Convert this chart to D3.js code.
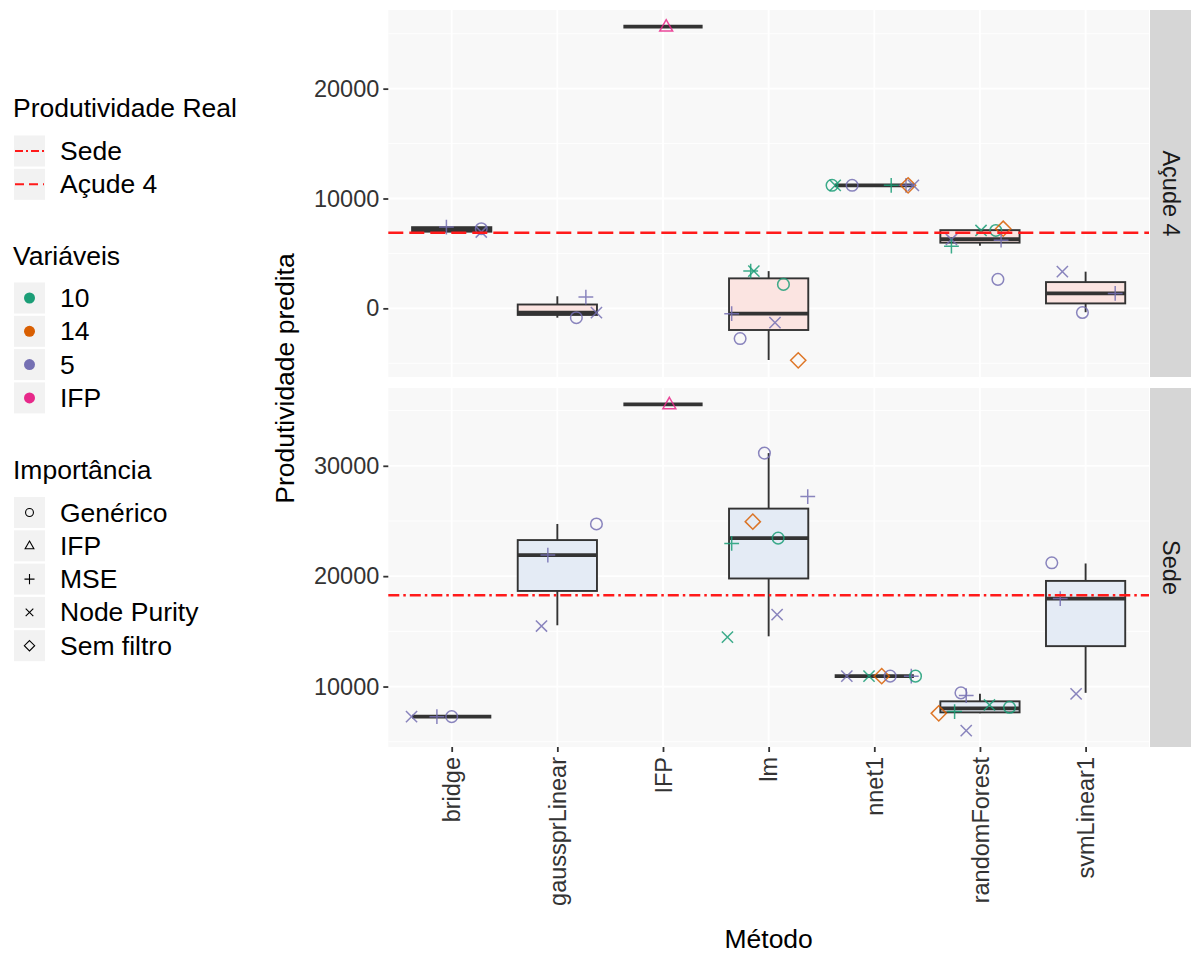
<!DOCTYPE html>
<html>
<head>
<meta charset="utf-8">
<script src="https://cdn.jsdelivr.net/npm/d3@7"></script>
<style>
  body { margin: 0; background: #ffffff; }
  svg text { font-family: "Liberation Sans", Arial, sans-serif; }
</style>
</head>
<body>
<svg id="chart" width="1191" height="958"></svg>
<script>
// ---- data -------------------------------------------------------------
const methods = ["bridge", "gaussprLinear", "IFP", "lm", "nnet1", "randomForest", "svmLinear1"];
const locais = ["Açude 4", "Sede"];
const variaveis = ["10", "14", "5", "IFP"];
const variaveisCores = ["#1B9E77", "#D95F02", "#7570B3", "#E7298A"];
const importancia = ["Genérico", "IFP", "MSE", "Node Purity", "Sem filtro"];
const yTicksAcude = [0, 10000, 20000];
const yTicksSede = [10000, 20000, 30000];
// observed productivity per site (Açude 4, Sede)
const produtividadeReal = [6880, 18270];
const realLabels = ["Sede", "Açude 4"];

// box statistics per method: [lower whisker, q1, median, q3, upper whisker]
const boxAcude = [
  [6950, 6980, 7150, 7390, 7400],
  [-850, -600, -400, 350, 1100],
  [25640, 25640, 25640, 25640, 25640],
  [-4700, -1970, -480, 2730, 3390],
  [11200, 11200, 11200, 11200, 11200],
  [5700, 5980, 6300, 7120, 7250],
  [-350, 450, 1360, 2390, 3340]
];
const boxSede = [
  [7270, 7270, 7270, 7270, 7270],
  [15550, 18660, 21910, 23270, 24730],
  [35570, 35570, 35570, 35570, 35570],
  [14550, 19790, 23450, 26120, 31150],
  [10940, 10940, 10940, 10940, 10940],
  [7570, 7660, 8030, 8660, 9350],
  [9430, 13660, 17970, 19570, 21150]
];

// individual predictions: [method, variaveis, importancia, valor, jitter]
const pontosAcude = [
  ["bridge", "5", "MSE", 7400, -0.05],
  ["bridge", "5", "Genérico", 7250, 0.28],
  ["bridge", "5", "Node Purity", 6950, 0.28],
  ["gaussprLinear", "5", "MSE", 1030, 0.27],
  ["gaussprLinear", "5", "Genérico", -850, 0.18],
  ["gaussprLinear", "5", "Node Purity", -390, 0.37],
  ["IFP", "IFP", "IFP", 25640, 0.03],
  ["lm", "10", "MSE", 3390, -0.17],
  ["lm", "10", "Node Purity", 3390, -0.14],
  ["lm", "10", "Genérico", 2180, 0.14],
  ["lm", "5", "MSE", -480, -0.35],
  ["lm", "5", "Node Purity", -1300, 0.06],
  ["lm", "5", "Genérico", -2750, -0.27],
  ["lm", "14", "Sem filtro", -4730, 0.28],
  ["nnet1", "10", "Genérico", 11200, -0.40],
  ["nnet1", "10", "Node Purity", 11200, -0.37],
  ["nnet1", "5", "Genérico", 11200, -0.21],
  ["nnet1", "10", "MSE", 11200, 0.16],
  ["nnet1", "5", "MSE", 11200, 0.30],
  ["nnet1", "14", "Sem filtro", 11200, 0.32],
  ["nnet1", "5", "Node Purity", 11200, 0.37],
  ["randomForest", "5", "Node Purity", 6270, -0.27],
  ["randomForest", "10", "MSE", 5660, -0.27],
  ["randomForest", "10", "Node Purity", 7090, 0.01],
  ["randomForest", "10", "Genérico", 7090, 0.15],
  ["randomForest", "14", "Sem filtro", 7250, 0.22],
  ["randomForest", "5", "MSE", 6210, 0.20],
  ["randomForest", "5", "Genérico", 2640, 0.17],
  ["svmLinear1", "5", "Node Purity", 3340, -0.22],
  ["svmLinear1", "5", "MSE", 1360, 0.28],
  ["svmLinear1", "5", "Genérico", -380, -0.03]
];
const pontosSede = [
  ["bridge", "5", "Node Purity", 7270, -0.38],
  ["bridge", "5", "MSE", 7270, -0.14],
  ["bridge", "5", "Genérico", 7270, 0.0],
  ["gaussprLinear", "5", "MSE", 21910, -0.09],
  ["gaussprLinear", "5", "Genérico", 24730, 0.37],
  ["gaussprLinear", "5", "Node Purity", 15480, -0.15],
  ["IFP", "IFP", "IFP", 35570, 0.06],
  ["lm", "5", "Genérico", 31150, -0.04],
  ["lm", "5", "MSE", 27210, 0.37],
  ["lm", "14", "Sem filtro", 24940, -0.15],
  ["lm", "10", "MSE", 22970, -0.35],
  ["lm", "10", "Genérico", 23450, 0.09],
  ["lm", "5", "Node Purity", 16520, 0.08],
  ["lm", "10", "Node Purity", 14480, -0.39],
  ["nnet1", "5", "Node Purity", 10940, -0.26],
  ["nnet1", "10", "Node Purity", 10940, -0.05],
  ["nnet1", "14", "Sem filtro", 10940, 0.07],
  ["nnet1", "5", "Genérico", 10940, 0.15],
  ["nnet1", "5", "MSE", 10940, 0.35],
  ["nnet1", "10", "Genérico", 10940, 0.39],
  ["randomForest", "5", "Genérico", 9430, -0.18],
  ["randomForest", "5", "MSE", 9180, -0.13],
  ["randomForest", "14", "Sem filtro", 7570, -0.39],
  ["randomForest", "10", "MSE", 7730, -0.24],
  ["randomForest", "10", "Node Purity", 8330, 0.09],
  ["randomForest", "10", "Genérico", 8120, 0.28],
  ["randomForest", "5", "Node Purity", 6000, -0.13],
  ["svmLinear1", "5", "Genérico", 21210, -0.32],
  ["svmLinear1", "5", "MSE", 17970, -0.24],
  ["svmLinear1", "5", "Node Purity", 9340, -0.09]
];

// ---- layout -----------------------------------------------------------
const svg = d3.select("#chart");
const FONT_TICK = 23.5, FONT_TITLE = 26.5, FONT_LEG = 26.5;
const panelLeft = 388.3, panelRight = 1149;
const stripW = 42;
const panels = [
  { local: locais[0], top: 10, bottom: 377, boxes: boxAcude, pontos: pontosAcude, ticks: yTicksAcude, real: produtividadeReal[0], dash: "15,6" },
  { local: locais[1], top: 388, bottom: 747, boxes: boxSede, pontos: pontosSede, ticks: yTicksSede, real: produtividadeReal[1], dash: "11,4,2.5,4" }
];

const x = d3.scalePoint().domain(methods).range([panelLeft, panelRight]).padding(0.6);
const step = x.step();
const boxW = 0.75 * step;
const color = d3.scaleOrdinal().domain(variaveis).range(variaveisCores);

// marker shapes for the importance filter
function shapePath(kind, k) {
  const p = d3.path();
  if (kind === "Genérico") {
    const r = 5.8 * k; p.moveTo(r, 0); p.arc(0, 0, r, 0, 2 * Math.PI);
  } else if (kind === "IFP") {
    const r = 7 * k;
    p.moveTo(0, -r); p.lineTo(r * 0.92, r * 0.62); p.lineTo(-r * 0.92, r * 0.62); p.closePath();
  } else if (kind === "MSE") {
    const r = 7.4 * k;
    p.moveTo(-r, 0); p.lineTo(r, 0); p.moveTo(0, -r); p.lineTo(0, r);
  } else if (kind === "Node Purity") {
    const r = 5.6 * k;
    p.moveTo(-r, -r); p.lineTo(r, r); p.moveTo(-r, r); p.lineTo(r, -r);
  } else {
    const r = 7.6 * k;
    p.moveTo(0, -r); p.lineTo(r, 0); p.lineTo(0, r); p.lineTo(-r, 0); p.closePath();
  }
  return p.toString();
}

panels.forEach((pn, pi) => {
  const vals = pn.pontos.map(d => d[3]).concat(pn.boxes.flat(), [pn.real]);
  const lo = d3.min(vals), hi = d3.max(vals), pad = (hi - lo) * 0.05;
  const y = d3.scaleLinear().domain([lo - pad, hi + pad]).range([pn.bottom, pn.top]);
  const g = svg.append("g");

  // panel background + grid
  g.append("rect").attr("x", panelLeft).attr("y", pn.top)
    .attr("width", panelRight - panelLeft).attr("height", pn.bottom - pn.top)
    .attr("fill", "#f8f8f8");
  const minor = [];
  const tStep = pn.ticks[1] - pn.ticks[0];
  for (let v = pn.ticks[0] - tStep / 2; v <= y.domain()[1]; v += tStep) {
    if (v >= y.domain()[0]) minor.push(v);
  }
  g.selectAll(".minor").data(minor).join("line")
    .attr("x1", panelLeft).attr("x2", panelRight)
    .attr("y1", d => y(d)).attr("y2", d => y(d))
    .attr("stroke", "#ffffff").attr("stroke-width", 0.9);
  g.selectAll(".major").data(pn.ticks).join("line")
    .attr("x1", panelLeft).attr("x2", panelRight)
    .attr("y1", d => y(d)).attr("y2", d => y(d))
    .attr("stroke", "#ffffff").attr("stroke-width", 1.8);
  g.selectAll(".vmajor").data(methods).join("line")
    .attr("x1", d => x(d)).attr("x2", d => x(d))
    .attr("y1", pn.top).attr("y2", pn.bottom)
    .attr("stroke", "#ffffff").attr("stroke-width", 1.8);

  // boxplots
  const bx = g.selectAll(".box").data(methods.map((m, i) => [m, pn.boxes[i]])).join("g");
  bx.append("line")
    .attr("x1", d => x(d[0])).attr("x2", d => x(d[0]))
    .attr("y1", d => y(d[1][0])).attr("y2", d => y(d[1][4]))
    .attr("stroke", "#333333").attr("stroke-width", 1.9);
  bx.append("rect")
    .attr("x", d => x(d[0]) - boxW / 2).attr("width", boxW)
    .attr("y", d => y(d[1][3])).attr("height", d => y(d[1][1]) - y(d[1][3]))
    .attr("fill", pi === 0 ? "#fbe4e1" : "#e4ebf5")
    .attr("stroke", "#333333").attr("stroke-width", 1.9);
  bx.append("line")
    .attr("x1", d => x(d[0]) - boxW / 2).attr("x2", d => x(d[0]) + boxW / 2)
    .attr("y1", d => y(d[1][2])).attr("y2", d => y(d[1][2]))
    .attr("stroke", "#333333").attr("stroke-width", 3.8);

  // predictions
  g.selectAll(".pt").data(pn.pontos).join("path")
    .attr("transform", d => `translate(${x(d[0]) + d[4] * step},${y(d[3])})`)
    .attr("d", d => shapePath(d[2], 1))
    .attr("fill", "none")
    .attr("stroke", d => color(d[1]))
    .attr("stroke-width", 1.5)
    .attr("stroke-opacity", 0.85);

  // observed productivity reference line
  g.append("line")
    .attr("x1", panelLeft).attr("x2", panelRight)
    .attr("y1", y(pn.real)).attr("y2", y(pn.real))
    .attr("stroke", "#ff1a1a").attr("stroke-width", 2.4)
    .attr("stroke-dasharray", pn.dash);

  // y axis
  const ax = g.append("g").attr("transform", `translate(${panelLeft},0)`)
    .call(d3.axisLeft(y).tickValues(pn.ticks).tickSize(5).tickPadding(4).tickFormat(d3.format("d")));
  ax.select(".domain").remove();
  ax.selectAll(".tick line").attr("stroke", "#333333").attr("stroke-width", 1.8);
  ax.selectAll(".tick text").attr("font-size", FONT_TICK).attr("fill", "#333333")
    .attr("font-family", "Liberation Sans, Arial, sans-serif");

  // facet strip
  g.append("rect").attr("x", panelRight + 1).attr("y", pn.top)
    .attr("width", stripW).attr("height", pn.bottom - pn.top).attr("fill", "#d6d6d6");
  g.append("text")
    .attr("transform", `translate(${panelRight + 1 + stripW / 2},${(pn.top + pn.bottom) / 2}) rotate(90)`)
    .attr("text-anchor", "middle").attr("dominant-baseline", "central")
    .attr("font-size", FONT_TICK).attr("fill", "#1a1a1a").text(pn.local);

  // x axis under the bottom panel
  if (pi === panels.length - 1) {
    const xa = svg.append("g").attr("transform", `translate(0,${pn.bottom})`)
      .call(d3.axisBottom(x).tickSize(5).tickPadding(4));
    xa.select(".domain").remove();
    xa.selectAll(".tick line").attr("stroke", "#333333").attr("stroke-width", 1.8);
    xa.selectAll(".tick text")
      .attr("font-size", FONT_TICK).attr("fill", "#333333")
      .attr("font-family", "Liberation Sans, Arial, sans-serif")
      .attr("transform", "rotate(-90)")
      .attr("text-anchor", "end").attr("dy", "0.35em")
      .attr("x", -10).attr("y", 0);
  }
});

// axis titles
svg.append("text").attr("x", (panelLeft + panelRight) / 2).attr("y", 948)
  .attr("text-anchor", "middle").attr("font-size", FONT_TITLE).attr("fill", "#000").text("Método");
svg.append("text")
  .attr("transform", `translate(294,${(10 + 747) / 2}) rotate(-90)`)
  .attr("text-anchor", "middle").attr("font-size", FONT_TITLE).attr("fill", "#000").text("Produtividade predita");

// ---- legends ----------------------------------------------------------
const legX = 13, keyS = 31, itemH = 33.3, textX = 60;
const leg = svg.append("g");
function legendTitle(label, cy) {
  leg.append("text").attr("x", legX).attr("y", cy).attr("dominant-baseline", "central")
    .attr("font-size", FONT_LEG).attr("fill", "#000").text(label);
}
function legendItems(labels, firstY, drawKey) {
  labels.forEach((lab, i) => {
    const cy = firstY + i * itemH;
    leg.append("rect").attr("x", legX + 1).attr("y", cy - keyS / 2)
      .attr("width", keyS).attr("height", keyS).attr("fill", "#f2f2f2");
    drawKey(leg, legX + 1 + keyS / 2, cy, i);
    leg.append("text").attr("x", textX).attr("y", cy).attr("dominant-baseline", "central")
      .attr("font-size", FONT_LEG).attr("fill", "#000").text(lab);
  });
}

legendTitle("Produtividade Real", 108);
legendItems(realLabels, 151, (gg, cx, cy, i) => {
  gg.append("line").attr("x1", cx - keyS / 2 + 1).attr("x2", cx + keyS / 2 - 1)
    .attr("y1", cy).attr("y2", cy)
    .attr("stroke", "#ff1a1a").attr("stroke-width", 2)
    .attr("stroke-dasharray", i === 0 ? "8,3,2,3" : "9,5");
});

legendTitle("Variáveis", 256);
legendItems(variaveis, 298, (gg, cx, cy, i) => {
  gg.append("circle").attr("cx", cx).attr("cy", cy).attr("r", 5.5).attr("fill", color(variaveis[i]));
});

legendTitle("Importância", 470);
legendItems(importancia, 512.5, (gg, cx, cy, i) => {
  gg.append("path").attr("transform", `translate(${cx},${cy})`)
    .attr("d", shapePath(importancia[i], 0.68))
    .attr("fill", "none").attr("stroke", "#000").attr("stroke-width", 1.1);
});
</script>
</body>
</html>
